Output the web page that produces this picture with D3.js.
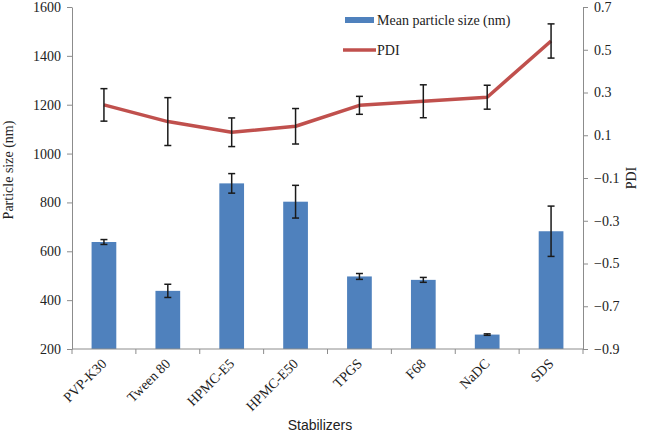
<!DOCTYPE html>
<html><head><meta charset="utf-8">
<script src="https://cdn.jsdelivr.net/npm/d3@7"></script>
<style>body{margin:0;background:#fff}svg{display:block}</style>
</head><body>
<svg id="c" width="646" height="436"></svg>
<script>
const categories = ["PVP-K30","Tween 80","HPMC-E5","HPMC-E50","TPGS","F68","NaDC","SDS"];
const sizeMean = [638, 438, 878, 803, 497, 483, 259, 682];
const sizeErr  = [10, 27, 40, 67, 12, 10, 3, 103];
const pdiMean  = [0.242, 0.164, 0.114, 0.142, 0.240, 0.259, 0.278, 0.541];
const pdiErr   = [0.076, 0.112, 0.067, 0.083, 0.042, 0.077, 0.056, 0.080];
const leftTicks  = [200,400,600,800,1000,1200,1400,1600];
const rightTicks = [-0.9,-0.7,-0.5,-0.3,-0.1,0.1,0.3,0.5,0.7];

const svg = d3.select("#c");
const L = 72, R = 583, T = 7, B = 349;
const serif = "'Liberation Serif','Times New Roman',serif";
const axisColor = "#8c8c8c";

const x = d3.scaleBand().domain(categories).range([L, R]).paddingInner(0.613).paddingOuter(0.3065);
const yL = d3.scaleLinear().domain([200, 1600]).range([B, T]);
const yR = d3.scaleLinear().domain([-0.9, 0.7]).range([B, T]);

// bars
svg.append("g").selectAll("rect").data(categories).join("rect")
  .attr("x", d => x(d)).attr("width", x.bandwidth())
  .attr("y", (d,i) => yL(sizeMean[i])).attr("height", (d,i) => B - yL(sizeMean[i]))
  .attr("fill", "#4f81bd");

function errBars(g, yS, m, e) {
  categories.forEach((c, i) => {
    const cx = x(c) + x.bandwidth()/2;
    const y1 = yS(m[i] + e[i]), y2 = yS(m[i] - e[i]);
    g.append("line").attr("x1", cx).attr("x2", cx).attr("y1", y1).attr("y2", y2);
    g.append("line").attr("x1", cx-3.5).attr("x2", cx+3.5).attr("y1", y1).attr("y2", y1);
    g.append("line").attr("x1", cx-3.5).attr("x2", cx+3.5).attr("y1", y2).attr("y2", y2);
  });
}
const eb1 = svg.append("g").attr("stroke", "#1a1a1a").attr("stroke-width", 1.5);
errBars(eb1, yL, sizeMean, sizeErr);

// line
const line = d3.line().x((d,i) => x(categories[i]) + x.bandwidth()/2).y(d => yR(d));
svg.append("path").datum(pdiMean).attr("d", line)
  .attr("fill", "none").attr("stroke", "#c0504d").attr("stroke-width", 3.5).attr("stroke-linejoin", "round");
const eb2 = svg.append("g").attr("stroke", "#1a1a1a").attr("stroke-width", 1.5);
errBars(eb2, yR, pdiMean, pdiErr);

// axes
function styleAxis(g) {
  g.attr("font-family", serif).attr("font-size", 14);
  g.selectAll("path").attr("stroke", axisColor);
  g.selectAll("line").attr("stroke", axisColor);
  g.selectAll("text").style("font-family", serif).style("font-size", "14px").attr("fill", "#222");
}
const gl = svg.append("g").attr("transform", `translate(${L},0)`)
  .call(d3.axisLeft(yL).tickValues(leftTicks).tickFormat(d3.format("d")).tickSize(5).tickSizeOuter(0).tickPadding(6));
styleAxis(gl);
const gr = svg.append("g").attr("transform", `translate(${R},0)`)
  .call(d3.axisRight(yR).tickValues(rightTicks).tickFormat(d3.format(".1f")).tickSize(5).tickSizeOuter(0).tickPadding(6));
styleAxis(gr);

const gb = svg.append("g").attr("transform", `translate(0,${B})`);
gb.append("line").attr("x1", L).attr("x2", R).attr("y1", 0).attr("y2", 0).attr("stroke", axisColor);
const bounds = categories.map(c => x(c) - x.step()*x.paddingInner()/2).concat([R]);
gb.selectAll("line.t").data(bounds).join("line").attr("class","t")
  .attr("x1", d => d).attr("x2", d => d).attr("y1", 0).attr("y2", 5).attr("stroke", axisColor);
gb.selectAll("text").data(categories).join("text")
  .attr("transform", d => `translate(${x(d) + x.bandwidth()/2},${12}) rotate(-45)`)
  .attr("text-anchor", "end").attr("dy", "0.35em")
  .style("font-family", serif).style("font-size", "14px").attr("fill", "#222")
  .text(d => d);

// titles
svg.append("text").attr("transform", `translate(13,${(T+B)/2 - 8}) rotate(-90)`)
  .attr("text-anchor", "middle").style("font-family", serif).style("font-size", "14px").attr("fill", "#222")
  .text("Particle size (nm)");
svg.append("text").attr("transform", `translate(636,${(T+B)/2}) rotate(-90)`)
  .attr("text-anchor", "middle").style("font-family", serif).style("font-size", "14px").attr("fill", "#222")
  .text("PDI");
svg.append("text").attr("x", 320).attr("y", 430)
  .attr("text-anchor", "middle").style("font-family", "'Liberation Sans Narrow','Arial Narrow',sans-serif").style("font-size", "14px").attr("fill", "#222")
  .text("Stabilizers");

// legend
const lg = svg.append("g");
lg.append("rect").attr("x", 345).attr("y", 17).attr("width", 29).attr("height", 6).attr("fill", "#4f81bd");
lg.append("text").attr("x", 377).attr("y", 20).attr("dy", "0.35em").style("font-family", serif).style("font-size", "14px").attr("fill", "#222").text("Mean particle size (nm)");
lg.append("line").attr("x1", 343).attr("x2", 376).attr("y1", 50).attr("y2", 50).attr("stroke", "#c0504d").attr("stroke-width", 3.5);
lg.append("text").attr("x", 377).attr("y", 50).attr("dy", "0.35em").style("font-family", serif).style("font-size", "14px").attr("fill", "#222").text("PDI");
</script>
</body></html>
